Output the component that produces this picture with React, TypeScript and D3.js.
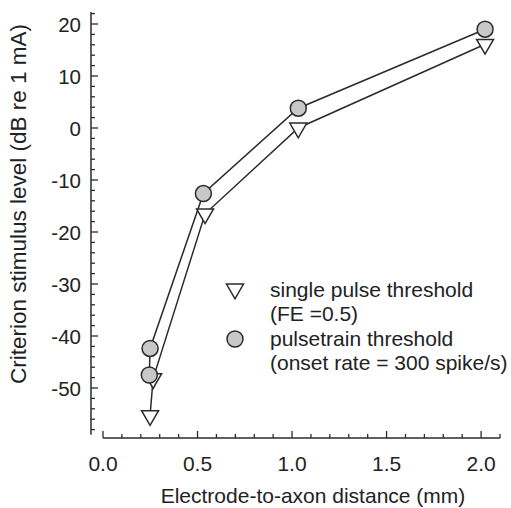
import React, { useEffect, useRef } from 'react';
import * as d3 from 'd3';

// single pulse threshold (FE = 0.5) -> triangles
const singleX = [0.249, 0.265, 0.54, 1.033, 2.021];
const singleY = [-55.3, -48.2, -16.5, 0.0, 16.1];

// pulsetrain threshold (onset rate = 300 spike/s) -> circles
const trainX = [0.245, 0.249, 0.531, 1.033, 2.021];
const trainY = [-47.5, -42.4, -12.6, 3.8, 19.0];

const xTickLabels = ['0.0', '0.5', '1.0', '1.5', '2.0'];
const yTickLabels = ['-50', '-40', '-30', '-20', '-10', '0', '10', '20'];

const legendLines = ['single pulse threshold', '(FE =0.5)', 'pulsetrain threshold', '(onset rate = 300 spike/s)'];

const FONT = '"Liberation Sans", Arial, sans-serif';
const INK = '#2b2b2b';

export default function App() {
	const ref = useRef<SVGSVGElement>(null);

	useEffect(() => {
		var svg = d3.select(ref.current);
		svg.selectAll('*').remove();

		var scale_x = d3.scaleLinear().domain([0, 2.1]).range([103, 500]);
		var scale_y = d3.scaleLinear().domain([-59, 22]).range([434.8, 13.6]);

		// y axis, ticks point inward
		var axis_y = svg.append('g');
		axis_y.append('line')
			.attr('x1', 91).attr('x2', 91)
			.attr('y1', scale_y(-59)).attr('y2', scale_y(22.3))
			.attr('stroke', INK).attr('stroke-width', 1.5);
		d3.range(-58, 23, 2).forEach(function(v) {
			var major = v % 10 === 0;
			axis_y.append('line')
				.attr('x1', 91).attr('x2', 91 + (major ? 7 : 4))
				.attr('y1', scale_y(v)).attr('y2', scale_y(v))
				.attr('stroke', INK).attr('stroke-width', 1.3);
		});
		yTickLabels.forEach(function(t) {
			axis_y.append('text')
				.text(t)
				.attr('x', 81).attr('y', scale_y(+t))
				.attr('text-anchor', 'end')
				.attr('dominant-baseline', 'central')
				.attr('font-size', 20.5).attr('font-family', FONT).attr('fill', '#222');
		});

		// x axis, separate from the y axis
		var axis_x = svg.append('g');
		axis_x.append('line')
			.attr('x1', scale_x(0)).attr('x2', scale_x(2.1))
			.attr('y1', 438).attr('y2', 438)
			.attr('stroke', INK).attr('stroke-width', 1.5);
		d3.range(0, 22).forEach(function(i) {
			var major = i % 5 === 0;
			axis_x.append('line')
				.attr('x1', scale_x(i / 10)).attr('x2', scale_x(i / 10))
				.attr('y1', 438).attr('y2', 438 - (major ? 7 : 4))
				.attr('stroke', INK).attr('stroke-width', 1.3);
		});
		xTickLabels.forEach(function(t) {
			axis_x.append('text')
				.text(t)
				.attr('x', scale_x(+t)).attr('y', 471)
				.attr('text-anchor', 'middle')
				.attr('font-size', 21).attr('font-family', FONT).attr('fill', '#222');
		});

		// axis titles
		svg.append('text')
			.text('Electrode-to-axon distance (mm)')
			.attr('x', 313).attr('y', 503)
			.attr('text-anchor', 'middle')
			.attr('font-size', 21).attr('font-family', FONT).attr('fill', '#222');
		svg.append('text')
			.text('Criterion stimulus level (dB re 1 mA)')
			.attr('text-anchor', 'middle')
			.attr('dominant-baseline', 'central')
			.attr('transform', 'translate(18,204) rotate(-90)')
			.attr('font-size', 22.5).attr('font-family', FONT).attr('fill', '#222');

		var single = singleX.map(function(x, i) { return [x, singleY[i]] as [number, number]; });
		var train = trainX.map(function(x, i) { return [x, trainY[i]] as [number, number]; });

		var line = d3.line<[number, number]>()
			.x(function(d) { return scale_x(d[0]); })
			.y(function(d) { return scale_y(d[1]); });

		svg.append('path').attr('d', line(single)).attr('fill', 'none').attr('stroke', INK).attr('stroke-width', 1.5);
		svg.append('path').attr('d', line(train)).attr('fill', 'none').attr('stroke', INK).attr('stroke-width', 1.5);

		var tri = d3.symbol().type(d3.symbolTriangle).size(125);

		svg.append('g').selectAll('path')
			.data(single)
			.enter()
			.append('path')
			.attr('d', tri())
			.attr('transform', function(d) { return `translate(${scale_x(d[0])},${scale_y(d[1])}) rotate(180)`; })
			.attr('fill', 'white')
			.attr('stroke', INK)
			.attr('stroke-width', 1.5);

		svg.append('g').selectAll('circle')
			.data(train)
			.enter()
			.append('circle')
			.attr('cx', function(d) { return scale_x(d[0]); })
			.attr('cy', function(d) { return scale_y(d[1]); })
			.attr('r', 8)
			.attr('fill', '#c8c8c8')
			.attr('stroke', INK)
			.attr('stroke-width', 1.5);

		// legend
		var legend = svg.append('g');
		legend.append('path')
			.attr('d', tri())
			.attr('transform', 'translate(235,289) rotate(180)')
			.attr('fill', 'white').attr('stroke', INK).attr('stroke-width', 1.5);
		legend.append('circle')
			.attr('cx', 235).attr('cy', 339).attr('r', 8)
			.attr('fill', '#c8c8c8').attr('stroke', INK).attr('stroke-width', 1.5);
		legendLines.forEach(function(t, i) {
			legend.append('text')
				.text(t)
				.attr('x', 270).attr('y', 289 + i * 24.5)
				.attr('dominant-baseline', 'central')
				.attr('font-size', 21).attr('font-family', FONT).attr('fill', '#222');
		});
	}, []);

	return (
		<svg ref={ref} width={511} height={508} style={{ position: 'absolute', left: 0, top: 0, background: 'white' }} />
	);
}
